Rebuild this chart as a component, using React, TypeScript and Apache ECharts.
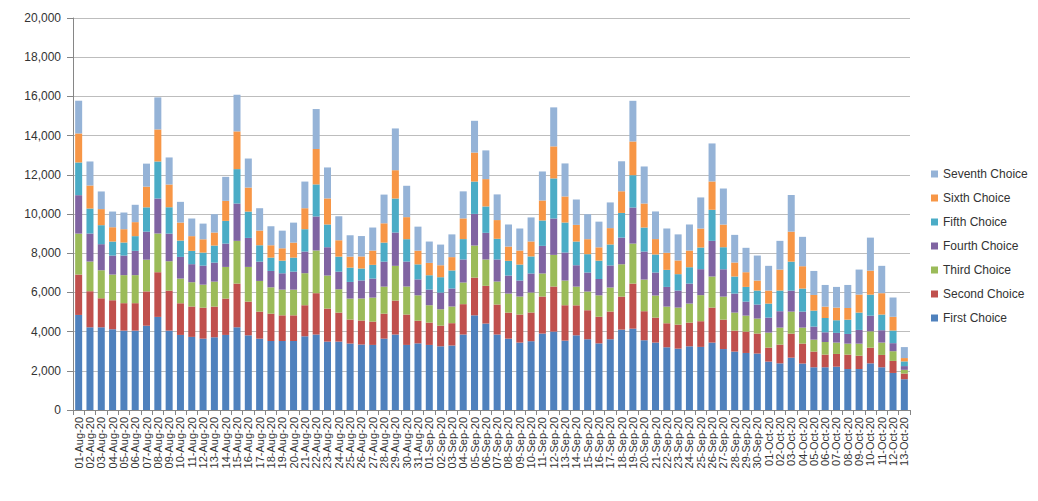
import React, { useEffect, useRef } from "react";
import * as echarts from "echarts";

const categories = [
  "01-Aug-20","02-Aug-20","03-Aug-20","04-Aug-20","05-Aug-20","06-Aug-20","07-Aug-20","08-Aug-20","09-Aug-20","10-Aug-20",
  "11-Aug-20","12-Aug-20","13-Aug-20","14-Aug-20","15-Aug-20","16-Aug-20","17-Aug-20","18-Aug-20","19-Aug-20","20-Aug-20",
  "21-Aug-20","22-Aug-20","23-Aug-20","24-Aug-20","25-Aug-20","26-Aug-20","27-Aug-20","28-Aug-20","29-Aug-20","30-Aug-20",
  "31-Aug-20","01-Sep-20","02-Sep-20","03-Sep-20","04-Sep-20","05-Sep-20","06-Sep-20","07-Sep-20","08-Sep-20","09-Sep-20",
  "10-Sep-20","11-Sep-20","12-Sep-20","13-Sep-20","14-Sep-20","15-Sep-20","16-Sep-20","17-Sep-20","18-Sep-20","19-Sep-20",
  "20-Sep-20","21-Sep-20","22-Sep-20","23-Sep-20","24-Sep-20","25-Sep-20","26-Sep-20","27-Sep-20","28-Sep-20","29-Sep-20",
  "30-Sep-20","01-Oct-20","02-Oct-20","03-Oct-20","04-Oct-20","05-Oct-20","06-Oct-20","07-Oct-20","08-Oct-20","09-Oct-20",
  "10-Oct-20","11-Oct-20","12-Oct-20","13-Oct-20"
];

const firstChoice = [
  4850,4220,4220,4120,4050,4050,4300,4750,4050,3830,3730,3640,
  3710,3830,4220,3810,3640,3520,3520,3520,3760,3850,3490,3490,
  3390,3340,3320,3640,3850,3320,3400,3320,3250,3290,3850,4830,4410,
  3850,3640,3440,3510,3900,4000,3540,3810,3610,3400,3610,4100,
  4150,3560,3440,3200,3130,3250,3220,3440,3110,2980,2910,2880,
  2470,2380,2670,2370,2180,2180,2210,2090,2090,2380,2180,1890,1570
];
const secondChoice = [
  2060,1840,1480,1480,1400,1400,1750,2280,2040,1615,1550,1580,
  1565,1855,2230,1720,1380,1395,1310,1310,1585,2110,1685,1480,
  1225,1225,1190,1275,1735,1550,1155,1140,1055,1140,1550,1925,1925,
  1530,1330,1430,1465,1890,2300,1805,1530,1480,1360,1415,1685,
  2300,1480,1275,1225,1225,1210,1310,1785,1500,1070,1090,1020,
  715,955,1225,1020,800,645,650,735,680,800,630,615,290
];
const thirdChoice = [
  2090,1515,1430,1310,1430,1430,1620,1975,1500,1260,1240,1175,
  1275,1615,2180,1770,1565,1345,1310,1310,1635,2180,1685,1190,
  1070,1125,1225,1380,1770,1430,1295,885,835,850,1105,1635,1345,
  1175,970,920,1020,1175,1615,1260,955,955,1090,1225,1650,
  2040,1615,1125,850,870,970,1330,1585,1175,920,815,765,
  765,870,1125,815,610,645,580,560,615,835,630,495,190
];
const fourthChoice = [
  1960,1430,1330,970,1000,1240,1430,1785,1410,1105,920,970,
  970,1190,1905,1480,985,835,835,920,1105,1735,1445,900,
  850,920,970,1275,1700,1275,815,800,850,920,1175,1615,1360,
  1125,920,815,970,1410,1855,1430,1090,970,835,1125,1360,
  1840,1430,1175,1005,870,1020,1325,1820,1395,970,715,715,
  765,835,1070,815,665,495,495,495,700,800,630,410,190
];
const fifthChoice = [
  1670,1275,970,715,665,750,1240,1890,1345,835,680,665,
  870,1160,1755,1345,835,680,645,715,1140,1635,1160,765,
  730,610,700,970,1735,1140,765,730,785,920,1040,1650,1345,
  1055,750,815,870,1295,2045,1530,1210,935,935,1070,1260,
  1650,1225,920,870,835,835,1105,1585,1125,870,750,715,
  715,1055,1480,1175,815,730,645,730,885,1070,800,645,240
];
const sixthChoice = [
  1480,1175,820,730,680,715,1055,1635,1160,920,750,680,
  665,1020,1925,1225,750,630,630,765,1070,1805,1330,835,
  560,615,730,985,1445,1125,700,630,610,680,1055,1480,1395,
  955,730,715,765,1020,1635,1330,850,765,680,835,1105,
  1720,1225,785,870,700,850,970,1445,1155,715,750,510,
  665,1070,1530,1140,800,580,645,595,920,1225,1090,700,170
];
const seventhChoice = [
  1670,1225,900,800,850,885,1175,1635,1380,1055,900,800,
  935,1225,1870,1480,1140,970,900,1020,1360,2040,1580,1225,
  1090,1040,1175,1465,2130,1600,1225,1090,1055,1160,1380,1620,1465,
  1310,1125,1125,1225,1480,1990,1685,1295,1275,1310,1310,1530,
  2075,1890,1410,1240,1330,1330,1585,1940,1840,1410,1245,1275,
  1260,1465,1870,1500,1225,1105,1055,1175,1275,1685,1395,985,560
];

const seriesNames = [
  "First Choice","Second Choice","Third Choice","Fourth Choice",
  "Fifth Choice","Sixth Choice","Seventh Choice"
];
const seriesData = [firstChoice, secondChoice, thirdChoice, fourthChoice, fifthChoice, sixthChoice, seventhChoice];
const seriesColors = ["#4F81BD","#C0504D","#9BBB59","#8064A2","#4BACC6","#F79646","#95B3D7"];

const FONT = "'Liberation Sans', Arial, sans-serif";

export default function App() {
  const ref = useRef<HTMLDivElement>(null);
  useEffect(() => {
    if (!ref.current) return;
    const chart = echarts.init(ref.current, null, { renderer: "svg" });
    chart.setOption({
      animation: false,
      backgroundColor: "#ffffff",
      textStyle: { fontFamily: FONT },
      grid: { left: 73, top: 18, right: 128, bottom: 91, containLabel: false },
      legend: {
        orient: "vertical",
        left: 926,
        top: 163,
        itemWidth: 7,
        itemHeight: 7,
        itemGap: 12,
        icon: "rect",
        data: [...seriesNames].reverse(),
        textStyle: { fontFamily: FONT, fontSize: 12, color: "#333" },
      },
      xAxis: {
        type: "category",
        data: categories,
        boundaryGap: true,
        axisLine: { lineStyle: { color: "#868686" } },
        axisTick: { show: true, length: 5, alignWithLabel: false, lineStyle: { color: "#868686" } },
        axisLabel: {
          interval: 0,
          rotate: 90,
          fontSize: 11,
          margin: 7,
          color: "#333",
          fontFamily: FONT,
        },
      },
      yAxis: {
        type: "value",
        min: 0,
        max: 20000,
        interval: 2000,
        axisLine: { show: true, lineStyle: { color: "#868686" } },
        axisTick: { show: true, length: 6, lineStyle: { color: "#868686" } },
        splitLine: { lineStyle: { color: "#BDBDBD" } },
        axisLabel: {
          fontSize: 12,
          color: "#333",
          margin: 12,
          fontFamily: FONT,
          formatter: (v: number) => v.toLocaleString("en-US"),
        },
      },
      series: seriesNames.map((name, i) => ({
        name,
        type: "bar",
        stack: "total",
        data: seriesData[i],
        barCategoryGap: "38%",
        itemStyle: { color: seriesColors[i] },
      })),
    });
    return () => chart.dispose();
  }, []);
  return (
    <div
      ref={ref}
      style={{ position: "fixed", left: 0, top: 0, width: 1038, height: 501 }}
    />
  );
}
